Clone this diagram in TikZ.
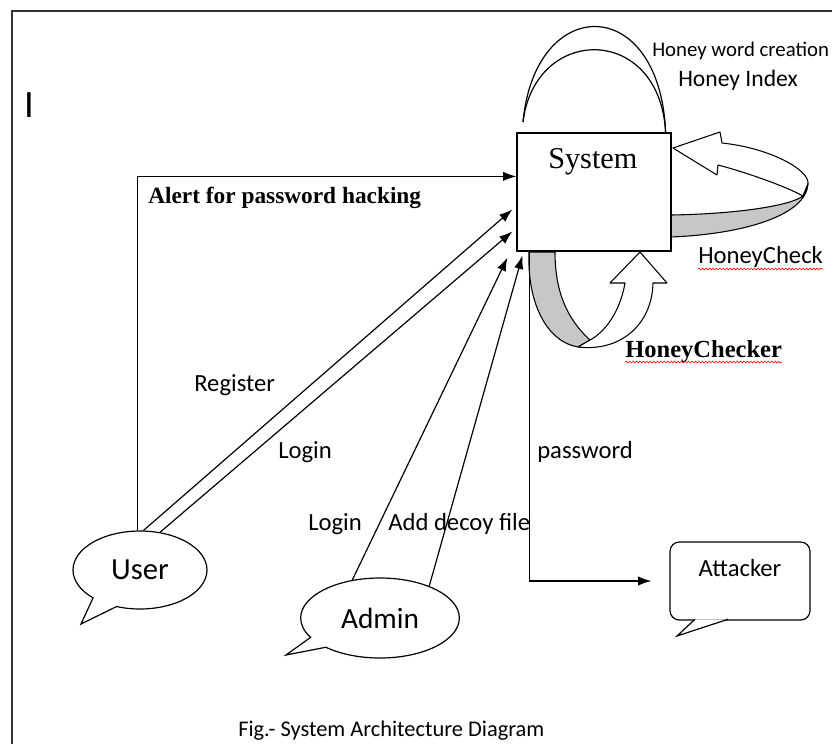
\documentclass[tikz,border=0pt]{standalone}
\usepackage{fontspec}
\setmainfont{Carlito}
\newfontfamily\camb{Liberation Serif}
\usetikzlibrary{shapes,arrows.meta,positioning,calc,decorations.pathmorphing}

\tikzset{
  txt/.style={inner sep=0pt, anchor=base west, font=\fontsize{18.5}{22}\selectfont},
  flow/.style={line width=0.9pt, -{Latex[length=10pt,width=7pt]}},
  bubble/.style={ellipse callout, draw, line width=0.9pt, inner sep=0pt},
  ribbon/.style={draw, line width=0.8pt, line join=round},
  squiggle/.style={red, line width=0.45pt, decorate,
    decoration={snake, amplitude=0.7pt, segment length=2.6pt}},
}

\begin{document}
\begin{tikzpicture}[x=0.75pt, y=-0.75pt]
\useasboundingbox (0,0) rectangle (832,744);
% page frame
\draw[gray!40!black, line width=1.5pt] (832,11) -- (12,11) -- (12,744);
\node[inner sep=0pt, font=\fontsize{29}{32}\selectfont] (mark) at (29,105) {I};

% HoneyCheck ribbon
\draw[ribbon, fill=white] (673,148) -- (720,132) -- (722,143)
  .. controls (770,148) and (810,170) .. (808,184) -- (803,196)
  .. controls (785,186) and (745,172) .. (718,165) -- (717,175) -- cycle;
\draw[ribbon, fill=black!22] (671,215) .. controls (735,214) and (790,206) .. (803,196)
  -- (808,184) .. controls (806,215) and (745,234) .. (671,237) -- cycle;
% HoneyChecker ribbon
\draw[ribbon, fill=black!22] (529,252) .. controls (527,305) and (548,342) .. (578,347)
  -- (590,340) .. controls (566,318) and (555,290) .. (555,252) -- cycle;
\draw[ribbon, fill=white] (578,347) .. controls (620,352) and (652,325) .. (653,283)
  -- (667,283) -- (640,252) -- (610,283) -- (625,283)
  .. controls (620,312) and (605,332) .. (590,340) -- cycle;

% system box
\node[draw, line width=0.9pt, minimum width=115.5pt, minimum height=88.5pt, inner sep=0pt] (sys) at (594,192) {};
\node[txt, font=\camb\fontsize{22.7}{26}\selectfont] (systxt) at (548,168) {System};

% self loops above
\draw[line width=0.9pt] (523,122) .. controls (535,-7) and (660,-7) .. ($(sys.north east)+(-6,0)$);
\draw[line width=0.9pt] (523,122) .. controls (535,24) and (660,24) .. ($(sys.north east)+(-6,0)$);
\node[txt, font=\fontsize{15.6}{18}\selectfont] (hwc) at (652,56) {Honey word creation};
\node[txt, font=\fontsize{17.7}{20}\selectfont] (hidx) at (678,86) {Honey Index};
\node[txt] (hcheck) at (698,263) {HoneyCheck};
\draw[squiggle] ([yshift=-4.5pt]hcheck.base west) -- ([yshift=-4.5pt]hcheck.base east);
\node[txt, font=\camb\bfseries\fontsize{18.4}{21}\selectfont] (hchecker) at (625,357) {HoneyChecker};
\draw[squiggle] ([yshift=-3.8pt]hchecker.base west) -- ([yshift=-3.8pt]hchecker.base east);

% actors
\node[bubble, minimum width=100.5pt, minimum height=58.5pt, callout absolute pointer={(81,624)},
  callout pointer arc=24, font=\fontsize{23}{26}\selectfont] (user) at (140,570) {User};
\node[bubble, minimum width=119pt, minimum height=60pt, callout absolute pointer={(286,655)},
  callout pointer arc=18, font=\fontsize{22}{25}\selectfont] (admin) at (380,618) {Admin};
\node[draw, line width=0.9pt, rounded corners=7pt, minimum width=105pt, minimum height=58.5pt,
  inner sep=0pt, text height=13pt, text depth=19.8pt, font=\fontsize{18.5}{22}\selectfont] (attacker) at (740,581) {Attacker};
\filldraw[line width=0.9pt, fill=white] ([xshift=-33.75pt, yshift=1pt]attacker.south) -- (677,636)
  -- ([xshift=-9pt, yshift=1pt]attacker.south);

% flows into the system
\draw[flow] ([xshift=-2pt]user.north) |- ($(sys.north west)+(0,44)$);
\node[txt, font=\camb\bfseries\fontsize{17.5}{20}\selectfont] (alert) at (148,203) {Alert for password hacking};
\draw[flow] (user.85) -- ($(sys.north west)+(-4,77)$);
\draw[flow] (user.62) -- ($(sys.north west)+(-4,99)$);
\draw[flow] (admin.126) -- ($(sys.south west)+(-9,6)$);
\draw[flow] (admin.33) -- ($(sys.south west)+(6,4)$);
\draw[flow, shorten >=13.5pt] ($(sys.south west)+(13,0)$) |- (attacker.west);

\node[txt] (register) at (194,391) {Register};
\node[txt] (ulogin) at (278,458) {Login};
\node[txt] (alogin) at (308,530) {Login};
\node[txt] (decoy) at (388,530) {Add decoy file};
\node[txt] (pwd) at (537,458) {password};

\node[txt, font=\fontsize{16.8}{20}\selectfont] (caption) at (238,736) {Fig.- System Architecture Diagram};
\end{tikzpicture}
\end{document}
